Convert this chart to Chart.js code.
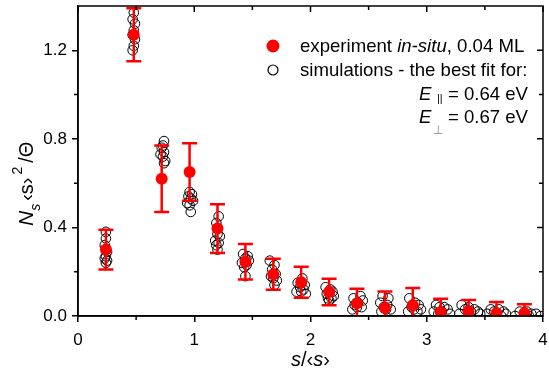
<!DOCTYPE html>
<html>
<head>
<meta charset="utf-8">
<script src="https://cdn.jsdelivr.net/npm/chart.js@4/dist/chart.umd.min.js"></script>
<style>
  html, body { margin: 0; padding: 0; background: #fff; }
  #wrap { width: 549px; height: 375px; position: relative; }
</style>
</head>
<body>
<div id="wrap"><canvas id="myChart" width="549" height="375"></canvas></div>
<script>
// experiment in-situ
const expX = [0.24, 0.48, 0.72, 0.96, 1.20, 1.44, 1.68, 1.92, 2.16, 2.40, 2.64, 2.88, 3.12, 3.36, 3.60, 3.84];
const expY = [0.30, 1.27, 0.62, 0.65, 0.395, 0.245, 0.188, 0.152, 0.108, 0.058, 0.036, 0.049, 0.018, 0.022, 0.013, 0.013];
const expErr = [0.09, 0.12, 0.15, 0.13, 0.11, 0.08, 0.07, 0.07, 0.06, 0.065, 0.075, 0.077, 0.06, 0.05, 0.05, 0.04];

// simulations (one small array per s/<s> bin)
const simX = [
  [0.24, 0.24, 0.23, 0.25, 0.24, 0.23, 0.25, 0.24],
  [0.48, 0.47, 0.49, 0.48, 0.47, 0.49, 0.48, 0.47],
  [0.74, 0.73, 0.72, 0.74, 0.71, 0.73, 0.75, 0.74],
  [0.96, 0.98, 0.95, 0.97, 0.99, 0.94, 0.96, 0.97],
  [1.21, 1.19, 1.20, 1.22, 1.18, 1.21, 1.19, 1.20],
  [1.42, 1.46, 1.44, 1.47, 1.41, 1.45, 1.43, 1.44],
  [1.65, 1.69, 1.67, 1.70, 1.66, 1.68, 1.71, 1.69],
  [1.93, 1.89, 1.95, 1.91, 1.94, 1.88, 1.92, 1.96],
  [2.13, 2.17, 2.19, 2.14, 2.20, 2.15, 2.18, 2.16],
  [2.43, 2.37, 2.45, 2.41, 2.38, 2.44, 2.40, 2.36],
  [2.62, 2.67, 2.60, 2.66, 2.63, 2.69, 2.65, 2.61],
  [2.85, 2.90, 2.93, 2.87, 2.95, 2.89, 2.84, 2.92],
  [3.08, 3.15, 3.11, 3.18, 3.06, 3.13, 3.20, 3.10],
  [3.30, 3.36, 3.41, 3.33, 3.44, 3.38, 3.28, 3.46],
  [3.55, 3.62, 3.58, 3.66, 3.52, 3.68, 3.60, 3.64],
  [3.80, 3.86, 3.90, 3.84, 3.94, 3.98, 3.76, 3.88]
];
const simY = [
  [0.38, 0.35, 0.32, 0.29, 0.27, 0.26, 0.25, 0.24],
  [1.37, 1.34, 1.32, 1.29, 1.27, 1.25, 1.22, 1.20],
  [0.79, 0.77, 0.76, 0.74, 0.73, 0.72, 0.70, 0.69],
  [0.56, 0.55, 0.54, 0.53, 0.52, 0.51, 0.50, 0.47],
  [0.45, 0.42, 0.37, 0.36, 0.34, 0.33, 0.32, 0.30],
  [0.28, 0.27, 0.26, 0.25, 0.24, 0.23, 0.22, 0.18],
  [0.25, 0.23, 0.21, 0.19, 0.18, 0.17, 0.16, 0.14],
  [0.17, 0.15, 0.14, 0.13, 0.12, 0.11, 0.11, 0.10],
  [0.13, 0.12, 0.11, 0.10, 0.09, 0.08, 0.08, 0.07],
  [0.09, 0.08, 0.07, 0.06, 0.05, 0.04, 0.04, 0.03],
  [0.09, 0.08, 0.06, 0.05, 0.04, 0.03, 0.03, 0.02],
  [0.08, 0.06, 0.05, 0.04, 0.03, 0.03, 0.02, 0.02],
  [0.05, 0.04, 0.04, 0.03, 0.02, 0.02, 0.01, 0.01],
  [0.05, 0.04, 0.03, 0.03, 0.02, 0.02, 0.01, 0.01],
  [0.03, 0.03, 0.02, 0.02, 0.01, 0.01, 0.01, 0.00],
  [0.02, 0.02, 0.01, 0.01, 0.01, 0.00, 0.00, 0.00]
];

// axis ticks
const xTicks = [0, 1, 2, 3, 4];
const xMinor = [0.5, 1.5, 2.5, 3.5];
const yTicks = [0, 0.4, 0.8, 1.2];
const yMinor = [0.2, 0.6, 1.0];

const FONT = '"Liberation Sans", Arial, sans-serif';

let expPoints = expX.map((x, i) => ({ x: x, y: expY[i] }));
let simPoints = [];
simX.forEach((g, i) => {
    g.forEach((x, j) => simPoints.push({ x: x, y: simY[i][j] }));
});

// error bars, drawn right after the simulation circles
const errorBars = {
    id: 'errorBars',
    afterDatasetDraw(chart, args) {
        if (args.index !== 1) return;
        const ctx = chart.ctx, xs = chart.scales.x, ys = chart.scales.y, a = chart.chartArea;
        ctx.save();
        ctx.beginPath();
        ctx.rect(a.left, a.top, a.right - a.left, a.bottom - a.top);
        ctx.clip();
        ctx.strokeStyle = '#ff0000';
        ctx.lineWidth = 2.5;
        expX.forEach((x, i) => {
            const px = xs.getPixelForValue(x);
            const top = ys.getPixelForValue(expY[i] + expErr[i]);
            const bot = ys.getPixelForValue(expY[i] - expErr[i]);
            ctx.beginPath();
            ctx.moveTo(px, top); ctx.lineTo(px, bot);
            ctx.moveTo(px - 7.5, top); ctx.lineTo(px + 7.5, top);
            ctx.moveTo(px - 7.5, bot); ctx.lineTo(px + 7.5, bot);
            ctx.stroke();
        });
        ctx.restore();
    }
};

// frame, minor/inner ticks, axis titles and legend
const decorations = {
    id: 'decorations',
    afterDraw(chart) {
        const ctx = chart.ctx, xs = chart.scales.x, ys = chart.scales.y, a = chart.chartArea;
        ctx.save();
        ctx.strokeStyle = '#000';
        ctx.lineWidth = 1.5;
        ctx.strokeRect(a.left, a.top, a.right - a.left, a.bottom - a.top);

        ctx.beginPath();
        xTicks.forEach(v => {
            const p = xs.getPixelForValue(v);
            ctx.moveTo(p, a.top); ctx.lineTo(p, a.top + 6);
        });
        xMinor.forEach(v => {
            const p = xs.getPixelForValue(v);
            ctx.moveTo(p, a.bottom); ctx.lineTo(p, a.bottom + 4);
            ctx.moveTo(p, a.top); ctx.lineTo(p, a.top + 4);
        });
        yTicks.forEach(v => {
            const p = ys.getPixelForValue(v);
            ctx.moveTo(a.right, p); ctx.lineTo(a.right - 6, p);
        });
        yMinor.forEach(v => {
            const p = ys.getPixelForValue(v);
            ctx.moveTo(a.left, p); ctx.lineTo(a.left - 4, p);
            ctx.moveTo(a.right, p); ctx.lineTo(a.right - 4, p);
        });
        ctx.stroke();

        ctx.fillStyle = '#000';
        ctx.textBaseline = 'alphabetic';

        // x title: s/<s>
        let parts = [['italic', 's'], ['normal', '/\u2039'], ['italic', 's'], ['normal', '\u203A']];
        let w = 0;
        parts.forEach(p => { ctx.font = p[0] + ' 20px ' + FONT; w += ctx.measureText(p[1]).width; });
        let x = (a.left + a.right) / 2 - w / 2;
        parts.forEach(p => {
            ctx.font = p[0] + ' 20px ' + FONT;
            ctx.fillText(p[1], x, 366);
            x += ctx.measureText(p[1]).width;
        });

        // y title: N_s <s>^2 / Theta
        ctx.save();
        ctx.translate(33, 226);
        ctx.rotate(-Math.PI / 2);
        x = 0;
        ctx.font = 'italic 21px ' + FONT;
        ctx.fillText('N', x, 0); x += ctx.measureText('N').width;
        ctx.font = 'italic 14px ' + FONT;
        ctx.fillText('s', x, 7); x += ctx.measureText('s').width + 3;
        ctx.font = '20px ' + FONT;
        ctx.fillText('\u2039s\u203A', x, 0); x += ctx.measureText('\u2039s\u203A').width + 3;
        ctx.font = '14px ' + FONT;
        ctx.fillText('2', x, -11); x += ctx.measureText('2').width + 4;
        ctx.font = '20px ' + FONT;
        ctx.fillText('/\u0398', x, 0);
        ctx.restore();

        // legend
        ctx.fillStyle = '#ff0000';
        ctx.beginPath(); ctx.arc(273, 46, 6.5, 0, Math.PI * 2); ctx.fill();
        ctx.strokeStyle = '#000'; ctx.lineWidth = 1.2;
        ctx.beginPath(); ctx.arc(273, 70, 5, 0, Math.PI * 2); ctx.stroke();

        ctx.fillStyle = '#000';
        x = 300;
        [['normal', 'experiment '], ['italic', 'in-situ'], ['normal', ', 0.04 ML']].forEach(p => {
            ctx.font = p[0] + ' 18.6px ' + FONT;
            ctx.fillText(p[1], x, 52);
            x += ctx.measureText(p[1]).width;
        });
        ctx.font = '18.6px ' + FONT;
        ctx.fillText('simulations - the best fit for:', 300, 76);

        ctx.textAlign = 'right';
        ctx.fillText('= 0.64 eV', 528, 100);
        ctx.fillText('= 0.67 eV', 528, 123);
        ctx.textAlign = 'left';
        ctx.font = 'italic 18.6px ' + FONT;
        ctx.fillText('E', 419, 100);
        ctx.fillText('E', 419, 123);
        ctx.font = '11px ' + FONT;
        ctx.fillText('||', 437, 102);
        ctx.fillStyle = '#888';
        ctx.font = '12px ' + FONT;
        ctx.fillText('\u22A5', 433, 134);
        ctx.restore();
    }
};

let element = document.querySelector('#myChart').getContext('2d');
let chart_output = new Chart(element, {
    type: 'scatter',
    data: {
        datasets: [
            {
                label: 'experiment in-situ, 0.04 ML',
                data: expPoints,
                pointRadius: 6,
                pointHoverRadius: 6,
                backgroundColor: '#ff0000',
                borderColor: '#ff0000',
                borderWidth: 0
            },
            {
                label: 'simulations - the best fit for',
                data: simPoints,
                pointRadius: 4.8,
                pointHoverRadius: 4.8,
                backgroundColor: 'rgba(0,0,0,0)',
                borderColor: '#000',
                borderWidth: 1
            }
        ]
    },
    options: {
        responsive: false,
        animation: false,
        devicePixelRatio: 1,
        layout: { padding: { top: 4, right: 4, left: 0, bottom: 0 } },
        plugins: {
            legend: { display: false },
            tooltip: { enabled: false }
        },
        scales: {
            x: {
                type: 'linear',
                min: 0, max: 4,
                afterBuildTicks: s => { s.ticks = xTicks.map(v => ({ value: v })); },
                afterFit: s => { s.height = 59; s.paddingLeft = 0; s.paddingRight = 0; },
                grid: { display: true, drawOnChartArea: false, drawTicks: true, tickLength: 6, color: '#000', lineWidth: 1.5 },
                border: { display: true, color: '#000', width: 1.5 },
                ticks: { color: '#000', font: { family: FONT, size: 17 }, padding: 8, maxRotation: 0 }
            },
            y: {
                type: 'linear',
                min: 0, max: 1.4,
                afterBuildTicks: s => { s.ticks = yTicks.map(v => ({ value: v })); },
                afterFit: s => { s.width = 78; s.paddingTop = 0; s.paddingBottom = 0; },
                grid: { display: true, drawOnChartArea: false, drawTicks: true, tickLength: 6, color: '#000', lineWidth: 1.5 },
                border: { display: true, color: '#000', width: 1.5 },
                ticks: { color: '#000', font: { family: FONT, size: 17 }, padding: 5, callback: v => v.toFixed(1) }
            }
        }
    },
    plugins: [errorBars, decorations]
});
</script>
</body>
</html>
